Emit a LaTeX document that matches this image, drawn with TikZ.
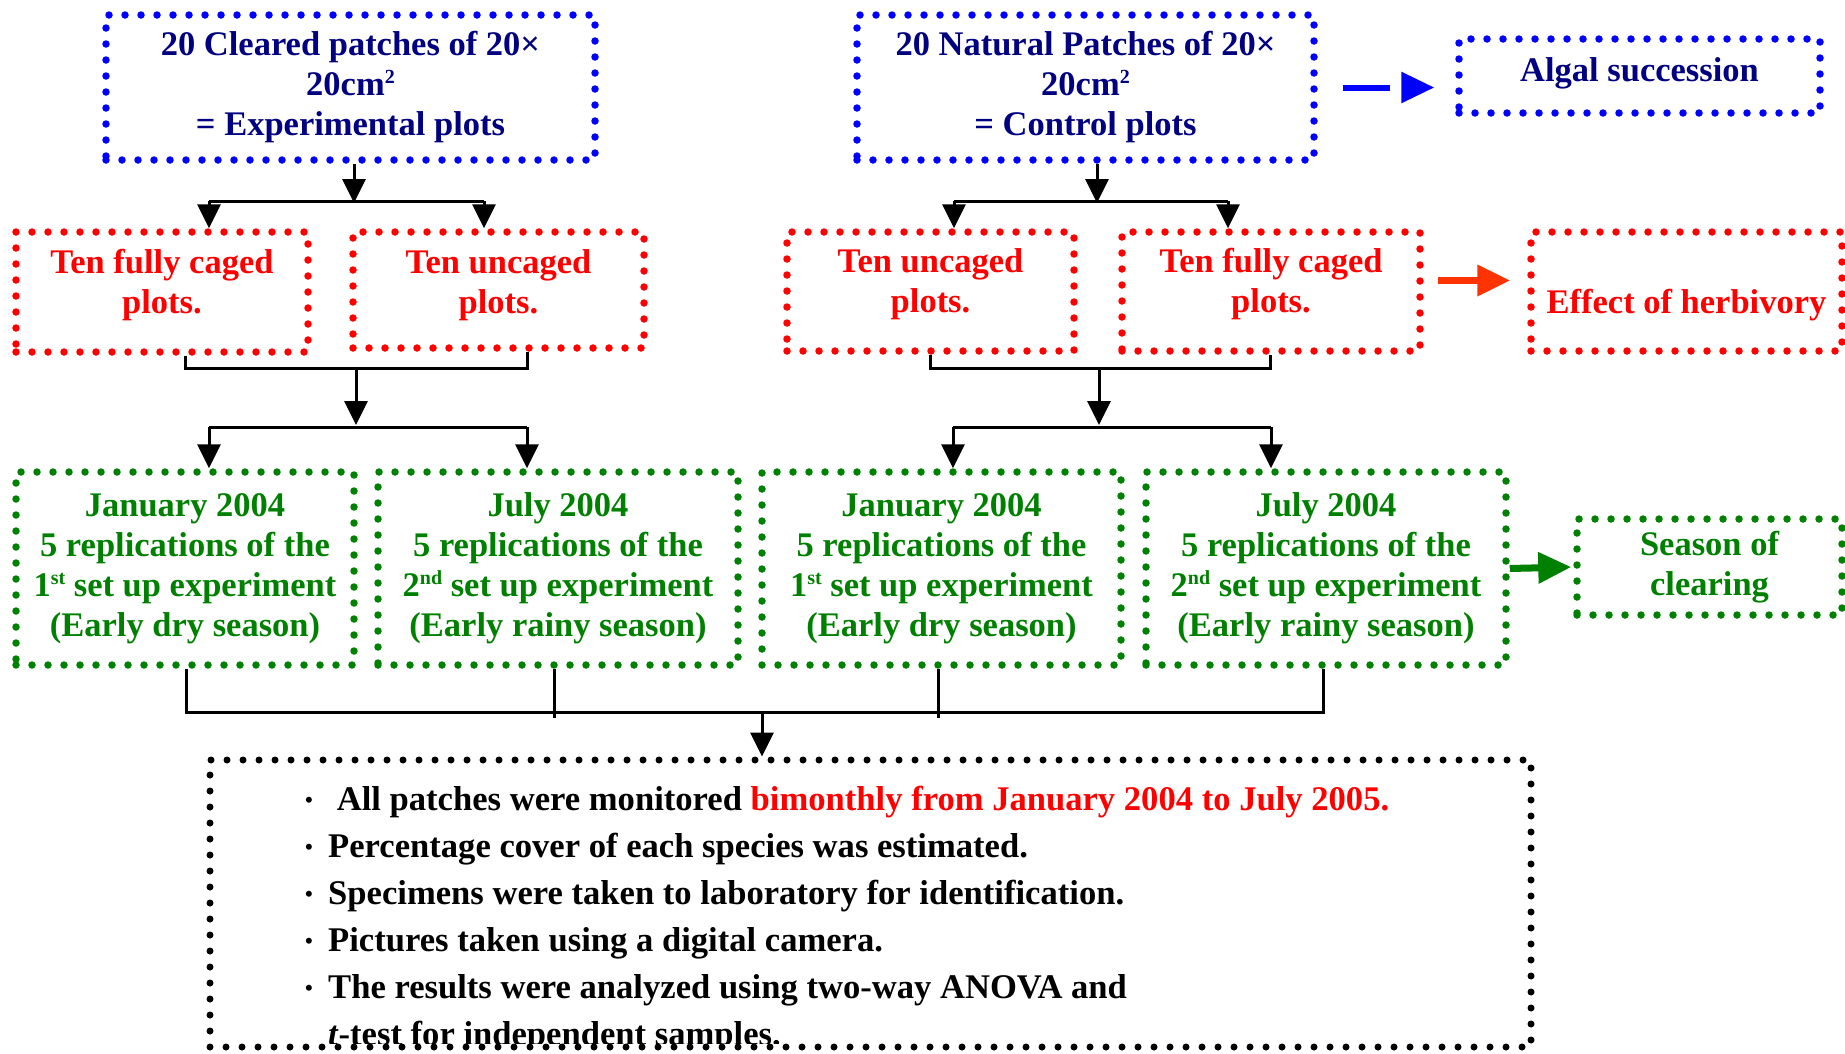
\documentclass[tikz,border=0pt]{standalone}
\usepackage{fontspec}
\setmainfont{Liberation Serif}
\usetikzlibrary{arrows.meta,calc}
\definecolor{navy}{HTML}{000080}
\definecolor{dblue}{HTML}{0000FF}
\definecolor{dred}{HTML}{FF0000}
\definecolor{dgreen}{HTML}{008000}
\definecolor{orred}{HTML}{FF3300}
\newcommand\bul{\makebox[23pt][l]{\fontsize{22}{22}\selectfont\raisebox{3pt}{•}}}
\newcommand\sups[1]{\raisebox{12pt}{\fontsize{20}{20}\selectfont #1}}
\newcommand\upbox[2]{\raisebox{#1}[\height][\depth]{\begin{tabular}{@{}c@{}}#2\end{tabular}}}
\begin{document}
\begin{tikzpicture}[x=1pt,y=-1pt,
  font=\fontsize{34.5}{40}\selectfont\bfseries,
  dotbox/.style={draw=#1, line width=7.5pt, line cap=round, dash pattern=on 0pt off 16pt, align=center, inner sep=0pt},
  blackdots/.style={draw=black, line width=7pt, line cap=round, dash pattern=on 0pt off 16pt, inner sep=0pt},
  conn/.style={line width=3pt, draw=black},
  arr/.style={conn, -{Triangle[length=24pt,width=23pt]}},
  bigarr/.style={line width=7pt, draw=#1, -{Triangle[length=33pt,width=30pt,fill=#1]}},
]
\useasboundingbox (0,0) rectangle (1845,1053);

% top row
\node[dotbox=dblue, text=navy, minimum width=489pt, minimum height=145pt] (b1) at (350.5,87.5)
  {20 Cleared patches of 20×\\20cm\sups{2}\\= Experimental plots};
\node[dotbox=dblue, text=navy, minimum width=457pt, minimum height=145pt] (b2) at (1085.5,87.5)
  {20 Natural Patches of 20×\\20cm\sups{2}\\= Control plots};
\node[dotbox=dblue, text=navy, minimum width=361pt, minimum height=74pt] (alg) at (1639.5,76)
  {\raisebox{3pt}[24pt][8pt]{Algal succession}};

% red row
\node[dotbox=dred, text=dred, minimum width=292pt, minimum height=120pt] (r1) at (162,292)
  {\upbox{7pt}{Ten fully caged\\plots.}};
\node[dotbox=dred, text=dred, minimum width=291pt, minimum height=116pt] (r2) at (498.5,290)
  {\upbox{5pt}{Ten uncaged\\plots.}};
\node[dotbox=dred, text=dred, minimum width=287pt, minimum height=119pt] (r3) at (930.5,291.5)
  {\upbox{7pt}{Ten uncaged\\plots.}};
\node[dotbox=dred, text=dred, minimum width=298pt, minimum height=119pt] (r4) at (1271,291.5)
  {\upbox{7pt}{Ten fully caged\\plots.}};
\node[dotbox=dred, text=dred, minimum width=311pt, minimum height=119pt] (herb) at (1686.5,291.5)
  {\raisebox{-14pt}[24pt][8pt]{Effect of herbivory}};

% green row
\node[dotbox=dgreen, text=dgreen, minimum width=338pt, minimum height=193pt] (g1) at (185,568.5)
  {January 2004\\5 replications of the\\1\sups{st} set up experiment\\(Early dry season)};
\node[dotbox=dgreen, text=dgreen, minimum width=360pt, minimum height=193pt] (g2) at (558,568.5)
  {July 2004\\5 replications of the\\2\sups{nd} set up experiment\\(Early rainy season)};
\node[dotbox=dgreen, text=dgreen, minimum width=359pt, minimum height=193pt] (g3) at (941.5,568.5)
  {January 2004\\5 replications of the\\1\sups{st} set up experiment\\(Early dry season)};
\node[dotbox=dgreen, text=dgreen, minimum width=360pt, minimum height=193pt] (g4) at (1326,568.5)
  {July 2004\\5 replications of the\\2\sups{nd} set up experiment\\(Early rainy season)};
\node[dotbox=dgreen, text=dgreen, minimum width=265pt, minimum height=96pt] (season) at (1709.5,567)
  {Season of\\clearing};

% bottom box
\node[blackdots, minimum width=1321pt, minimum height=287pt] (notes) at (870.5,903.5) {};
\begin{scope}
\clip (notes.north west) rectangle ($(notes.south east)+(0,-7)$);
\node[anchor=north west, inner sep=0pt, align=left, font=\fontsize{34.6}{47}\selectfont\bfseries] (notetext) at (305,786)
  {\bul\ All patches were monitored \textcolor{dred}{bimonthly from January 2004 to July 2005.}\\
   \bul Percentage cover of each species was estimated.\\
   \bul Specimens were taken to laboratory for identification.\\
   \bul Pictures taken using a digital camera.\\
   \bul The results were analyzed using two-way ANOVA and\\
   \hspace*{23pt}\textit{t}-test for independent samples.};
\end{scope}

% junction coordinates
\coordinate (t1) at (354,203);
\coordinate (t1a) at (209,201);
\coordinate (t1b) at (484,201);
\coordinate (t2) at (1097,203);
\coordinate (t2a) at (954,201);
\coordinate (t2b) at (1228,201);
\coordinate (bl1) at (185,368);
\coordinate (bl2) at (527,368);
\coordinate (bl0) at (356,368);
\coordinate (m1) at (356,425);
\coordinate (m1a) at (209,427);
\coordinate (m1b) at (527,427);
\coordinate (br1) at (930,368);
\coordinate (br2) at (1270,368);
\coordinate (br0) at (1099,368);
\coordinate (m2) at (1099,425);
\coordinate (m2a) at (953,427);
\coordinate (m2b) at (1271,427);
\coordinate (gb1) at (186,712);
\coordinate (gb2) at (554,712);
\coordinate (gb3) at (938,712);
\coordinate (gb4) at (1323,712);
\coordinate (nb) at (762,712);

% top-left split
\draw[arr] (b1.south -| t1) -- (t1);
\draw[conn] (t1a) -- (t1b);
\draw[arr] (t1a) -- (t1a |- r1.north);
\draw[arr] (t1b) -- (t1b |- r2.north);
% top-right split
\draw[arr] (b2.south -| t2) -- (t2);
\draw[conn] (t2a) -- (t2b);
\draw[arr] (t2a) -- (t2a |- r3.north);
\draw[arr] (t2b) -- (t2b |- r4.north);
% left red bracket
\draw[conn] (r1.south -| bl1) -- (bl1) -- (bl2) -- (r2.south -| bl2);
\draw[arr] (bl0) -- (m1);
\draw[conn] (m1a) -- (m1b);
\draw[arr] (m1a) -- (m1a |- g1.north);
\draw[arr] (m1b) -- (m1b |- g2.north);
% right red bracket
\draw[conn] (r3.south -| br1) -- (br1) -- (br2) -- (r4.south -| br2);
\draw[arr] (br0) -- (m2);
\draw[conn] (m2a) -- (m2b);
\draw[arr] (m2a) -- (m2a |- g3.north);
\draw[arr] (m2b) -- (m2b |- g4.north);
% bottom bracket
\draw[conn] (g1.south -| gb1) -- (gb1) -- (gb4) -- (g4.south -| gb4);
\draw[conn] (g2.south -| gb2) -- ($(gb2)+(0,6)$);
\draw[conn] (g3.south -| gb3) -- ($(gb3)+(0,6)$);
\draw[arr] (nb) -- (nb |- notes.north);

% coloured arrows
\draw[bigarr=dblue, line width=6pt, dash pattern=on 47pt off 100pt, shorten <=25pt, shorten >=21pt]
  (b2.east) -- (b2.east -| alg.west);
\draw[bigarr=orred, shorten <=14pt, shorten >=17pt]
  ($(r4.east)+(0,-11)$) -- ($(herb.west)+(0,-11)$);
\draw[bigarr=dgreen, shorten >=2pt] (g4.east) -- (season.west);
\end{tikzpicture}
\end{document}
